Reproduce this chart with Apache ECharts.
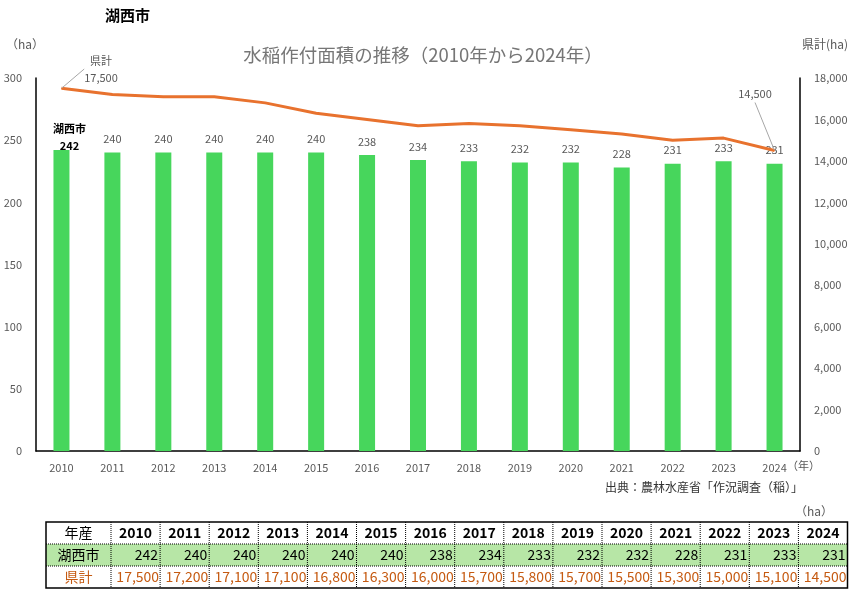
<!DOCTYPE html>
<html>
<head>
<meta charset="utf-8">
<script src="https://cdn.jsdelivr.net/npm/echarts@6/dist/echarts.min.js"></script>
<style>
  html, body { margin: 0; padding: 0; background: #fff; }
  #main { width: 863px; height: 603px; }
</style>
</head>
<body>
<div id="main"></div>
<script>
var years = ['2010', '2011', '2012', '2013', '2014', '2015', '2016', '2017', '2018', '2019', '2020', '2021', '2022', '2023', '2024'];
var kosaiValues = [242, 240, 240, 240, 240, 240, 238, 234, 233, 232, 232, 228, 231, 233, 231];
var prefValues = [17500, 17200, 17100, 17100, 16800, 16300, 16000, 15700, 15800, 15700, 15500, 15300, 15000, 15100, 14500];

var font = '"Noto Sans CJK JP", "Noto Sans", sans-serif';
var grey = '#595959';

function fmt(n) {
  return String(n).replace(/\B(?=(\d{3})+(?!\d))/g, ',');
}

// data table under the chart
function buildTable() {
  var els = [];
  var x0 = 46, y0 = 522, firstW = 65, colW = 49.1, rowH = 22;
  var totalW = firstW + colW * years.length;
  els.push({ type: 'rect', shape: { x: x0, y: y0 + rowH, width: totalW, height: rowH }, style: { fill: '#B7E6A6' } });
  for (var i = 0; i < years.length; i++) {
    var lx = x0 + firstW + colW * i;
    els.push({ type: 'line', shape: { x1: lx, y1: y0, x2: lx, y2: y0 + rowH * 3 }, style: { stroke: '#000', lineWidth: 1, lineDash: [1, 1] } });
  }
  for (var r = 1; r < 3; r++) {
    els.push({ type: 'line', shape: { x1: x0, y1: y0 + rowH * r, x2: x0 + totalW, y2: y0 + rowH * r }, style: { stroke: '#000', lineWidth: 1, lineDash: [1, 1] } });
  }
  els.push({ type: 'rect', shape: { x: x0, y: y0, width: totalW, height: rowH * 3 }, style: { fill: 'none', stroke: '#000', lineWidth: 1.5 } });

  var labels = [['年産', '#000'], ['湖西市', '#000'], ['県計', '#C55A11']];
  labels.forEach(function (l, r) {
    els.push({ type: 'text', x: x0 + firstW / 2, y: y0 + rowH * r + rowH / 2,
      style: { text: l[0], fill: l[1], font: '14px ' + font, align: 'center', verticalAlign: 'middle' } });
  });
  years.forEach(function (y, i) {
    var cx = x0 + firstW + colW * i;
    els.push({ type: 'text', x: cx + colW / 2, y: y0 + rowH / 2,
      style: { text: y, fill: '#000', font: 'bold 14px ' + font, align: 'center', verticalAlign: 'middle' } });
    els.push({ type: 'text', x: cx + colW - 2, y: y0 + rowH * 1.5,
      style: { text: String(kosaiValues[i]), fill: '#000', font: '14px ' + font, align: 'right', verticalAlign: 'middle' } });
    els.push({ type: 'text', x: cx + colW - 1, y: y0 + rowH * 2.5,
      style: { text: fmt(prefValues[i]), fill: '#C55A11', font: '14px ' + font, align: 'right', verticalAlign: 'middle' } });
  });
  els.push({ type: 'text', x: 814, y: 511, style: { text: '（ha）', fill: grey, font: '12px ' + font, align: 'center', verticalAlign: 'middle' } });
  return els;
}

var barData = kosaiValues.map(function (v, i) {
  return i === 0 ? { value: v, label: { distance: -4, offset: [8, 0] } } : v;
});

// only the first and last points of the line carry a callout label
var last = prefValues.length - 1;
var lineData = prefValues.map(function (v, i) {
  if (i === 0 || i === last) {
    return { value: v, label: { show: true }, labelLine: { show: true } };
  }
  return v;
});

var chart = echarts.init(document.getElementById('main'));
chart.setOption({
  animation: false,
  textStyle: { fontFamily: font },
  title: {
    text: '水稲作付面積の推移（2010年から2024年）',
    left: 418,
    textAlign: 'center',
    top: 41,
    textStyle: { color: '#767676', fontSize: 18.5, fontWeight: 'normal' }
  },
  grid: { left: 36, right: 63, top: 78, bottom: 152 },
  xAxis: {
    type: 'category',
    data: years,
    axisLine: { lineStyle: { color: '#000', width: 1.5 } },
    axisTick: { show: false },
    axisLabel: { color: grey, fontSize: 11, margin: 11 }
  },
  yAxis: [
    {
      type: 'value', min: 0, max: 300, interval: 50,
      axisLine: { show: true, lineStyle: { color: '#000', width: 1.5 } },
      splitLine: { show: false },
      axisLabel: { color: grey, fontSize: 11, margin: 14 }
    },
    {
      type: 'value', min: 0, max: 18000, interval: 2000,
      axisLine: { show: true, lineStyle: { color: '#000', width: 1.5 } },
      splitLine: { show: false },
      axisLabel: { color: grey, fontSize: 11, margin: 14, formatter: function (v) { return fmt(v); } }
    }
  ],
  series: [
    {
      name: '湖西市',
      type: 'bar',
      data: barData,
      barWidth: 16,
      itemStyle: { color: '#47D65C' },
      label: {
        show: true, position: 'top', distance: 8, color: grey, fontSize: 11,
        formatter: function (p) {
          return p.dataIndex === 0 ? '{a|湖西市}\n{b|' + p.value + '}' : String(p.value);
        },
        rich: {
          a: { color: '#000', fontSize: 11, fontWeight: 'bold', lineHeight: 17 },
          b: { color: '#000', fontSize: 11, fontWeight: 'bold', lineHeight: 17 }
        }
      },
      z: 2
    },
    {
      name: '県計',
      type: 'line',
      yAxisIndex: 1,
      data: lineData,
      symbol: 'circle',
      symbolSize: 1,
      itemStyle: { color: '#E8722E' },
      lineStyle: { color: '#E8722E', width: 3 },
      label: {
        show: false, color: grey, fontSize: 11, lineHeight: 17,
        formatter: function (p) {
          return p.dataIndex === 0 ? '県計\n' + fmt(p.value) : fmt(p.value);
        }
      },
      labelLine: { show: false, lineStyle: { color: '#a6a6a6', width: 1 } },
      labelLayout: function (p) {
        if (p.dataIndex === 0) return { x: 101, y: 69, align: 'center', verticalAlign: 'middle' };
        if (p.dataIndex === last) return { x: 755, y: 94, align: 'center', verticalAlign: 'middle' };
        return {};
      },
      z: 3
    }
  ],
  graphic: [
    { type: 'text', x: 105, y: 8, style: { text: '湖西市', fill: '#000', font: 'bold 15px ' + font } },
    { type: 'text', x: 6, y: 38, style: { text: '（ha）', fill: grey, font: '12px ' + font } },
    { type: 'text', x: 802, y: 38, style: { text: '県計(ha)', fill: grey, font: '12px ' + font } },
    { type: 'text', x: 787, y: 460, style: { text: '（年）', fill: grey, font: '11px ' + font } },
    { type: 'text', x: 605, y: 481, style: { text: '出典：農林水産省「作況調査（稲）」', fill: '#333', font: '12px ' + font } }
  ].concat(buildTable())
});
</script>
</body>
</html>
